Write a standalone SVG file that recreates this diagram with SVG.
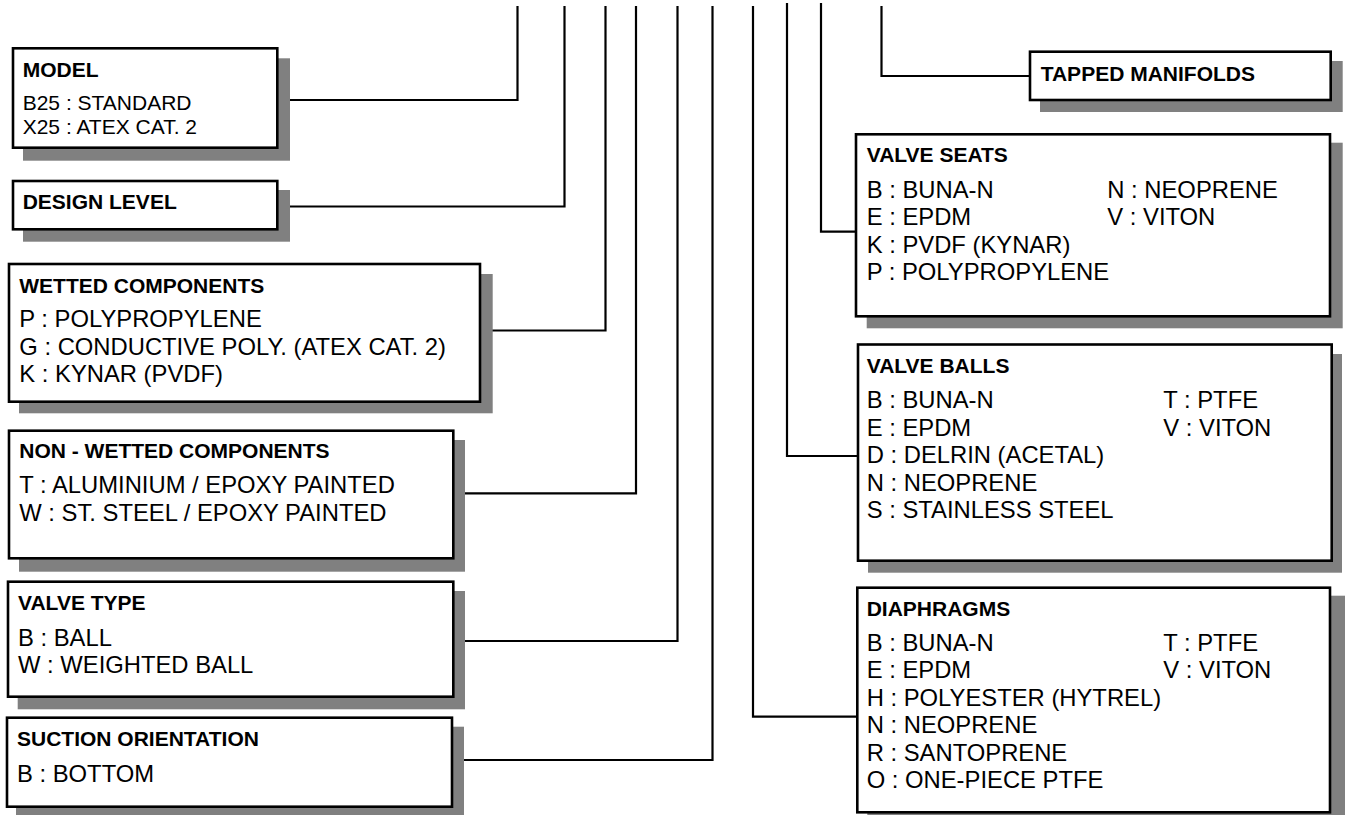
<svg xmlns="http://www.w3.org/2000/svg" width="1345" height="815" viewBox="0 0 1345 815">
<style>
.box{fill:#fff;stroke:#000;stroke-width:2.6}
.sh{fill:#808080}
.t{font-family:"Liberation Sans",Arial,sans-serif;font-weight:bold;font-size:21px;fill:#000}
.b{font-family:"Liberation Sans",Arial,sans-serif;font-size:23.8px;fill:#000}
.bm{font-family:"Liberation Sans",Arial,sans-serif;font-size:21px;fill:#000}
.c{fill:none;stroke:#000;stroke-width:2.2}
</style>
<rect width="1345" height="815" fill="#fff"/>
<g id="connectors">
<path class="c" d="M278,100 H517.5 V6"/>
<path class="c" d="M278,206.5 H564.5 V6"/>
<path class="c" d="M480,330.5 H605.5 V6"/>
<path class="c" d="M453,493.3 H636 V6"/>
<path class="c" d="M453,641 H677.5 V6"/>
<path class="c" d="M452,760 H712.5 V6"/>
<path class="c" d="M857,716.7 H753 V6"/>
<path class="c" d="M858,456 H787 V3"/>
<path class="c" d="M856,231.7 H821 V3"/>
<path class="c" d="M1030,76 H881.5 V6"/>
</g>
<g id="model">
<rect class="sh" x="23" y="58.3" width="267" height="102.4"/>
<rect class="box" x="13" y="48.3" width="264.3" height="99.4"/>
<text class="t" x="22.7" y="76.7">MODEL</text>
<text class="bm" x="22.7" y="110">B25 : STANDARD</text>
<text class="bm" x="22.7" y="134">X25 : ATEX CAT. 2</text>
</g>
<g id="design-level">
<rect class="sh" x="23" y="190" width="267" height="51.7"/>
<rect class="box" x="13" y="181" width="264.3" height="48.3"/>
<text class="t" x="22.7" y="209">DESIGN LEVEL</text>
</g>
<g id="wetted">
<rect class="sh" x="19" y="274" width="473.7" height="139.3"/>
<rect class="box" x="9" y="264" width="471" height="137.7"/>
<text class="t" x="19.3" y="292.7">WETTED COMPONENTS</text>
<text class="b" x="19.3" y="327.3">P : POLYPROPYLENE</text>
<text class="b" x="19.3" y="355">G : CONDUCTIVE POLY. (ATEX CAT. 2)</text>
<text class="b" x="19.3" y="382.3">K : KYNAR (PVDF)</text>
</g>
<g id="non-wetted">
<rect class="sh" x="19" y="440" width="446" height="131.7"/>
<rect class="box" x="9" y="430.7" width="444.3" height="127.6"/>
<text class="t" x="19.3" y="458.3">NON - WETTED COMPONENTS</text>
<text class="b" x="19.3" y="493.3">T : ALUMINIUM / EPOXY PAINTED</text>
<text class="b" x="19.3" y="520.7">W : ST. STEEL / EPOXY PAINTED</text>
</g>
<g id="valve-type">
<rect class="sh" x="17.7" y="591" width="447.3" height="118.3"/>
<rect class="box" x="8" y="581.7" width="445.3" height="115"/>
<text class="t" x="18" y="610">VALVE TYPE</text>
<text class="b" x="18" y="646">B : BALL</text>
<text class="b" x="18" y="673.3">W : WEIGHTED BALL</text>
</g>
<g id="suction">
<rect class="sh" x="16" y="726.7" width="448" height="92"/>
<rect class="box" x="7" y="717.7" width="445" height="89"/>
<text class="t" x="17" y="746">SUCTION ORIENTATION</text>
<text class="b" x="17" y="781.7">B : BOTTOM</text>
</g>
<g id="tapped-manifolds">
<rect class="sh" x="1040" y="61" width="302.7" height="51"/>
<rect class="box" x="1030" y="51.7" width="300.7" height="48.3"/>
<text class="t" x="1040.7" y="81">TAPPED MANIFOLDS</text>
</g>
<g id="valve-seats">
<rect class="sh" x="866.7" y="142.7" width="476" height="185.6"/>
<rect class="box" x="856" y="134.3" width="474" height="182"/>
<text class="t" x="866.7" y="162.3">VALVE SEATS</text>
<text class="b" x="866.7" y="198.3">B : BUNA-N</text>
<text class="b" x="866.7" y="225.3">E : EPDM</text>
<text class="b" x="866.7" y="252.5">K : PVDF (KYNAR)</text>
<text class="b" x="866.7" y="279.8">P : POLYPROPYLENE</text>
<text class="b" x="1107.3" y="198.3">N : NEOPRENE</text>
<text class="b" x="1107.3" y="225.3">V : VITON</text>
</g>
<g id="valve-balls">
<rect class="sh" x="868" y="354" width="474" height="218.7"/>
<rect class="box" x="858" y="344.5" width="473.7" height="216.2"/>
<text class="t" x="866.7" y="373">VALVE BALLS</text>
<text class="b" x="866.7" y="408.3">B : BUNA-N</text>
<text class="b" x="866.7" y="435.8">E : EPDM</text>
<text class="b" x="866.7" y="463.3">D : DELRIN (ACETAL)</text>
<text class="b" x="866.7" y="490.8">N : NEOPRENE</text>
<text class="b" x="866.7" y="518.3">S : STAINLESS STEEL</text>
<text class="b" x="1163.3" y="408.3">T : PTFE</text>
<text class="b" x="1163.3" y="435.8">V : VITON</text>
</g>
<g id="diaphragms">
<rect class="sh" x="867.3" y="595.7" width="477.7" height="230"/>
<rect class="box" x="857.3" y="587.7" width="472.7" height="224.6"/>
<text class="t" x="866.7" y="616">DIAPHRAGMS</text>
<text class="b" x="866.7" y="651">B : BUNA-N</text>
<text class="b" x="866.7" y="678.3">E : EPDM</text>
<text class="b" x="866.7" y="706">H : POLYESTER (HYTREL)</text>
<text class="b" x="866.7" y="733.3">N : NEOPRENE</text>
<text class="b" x="866.7" y="761">R : SANTOPRENE</text>
<text class="b" x="866.7" y="788.3">O : ONE-PIECE PTFE</text>
<text class="b" x="1163.3" y="651">T : PTFE</text>
<text class="b" x="1163.3" y="678.3">V : VITON</text>
</g>
</svg>
